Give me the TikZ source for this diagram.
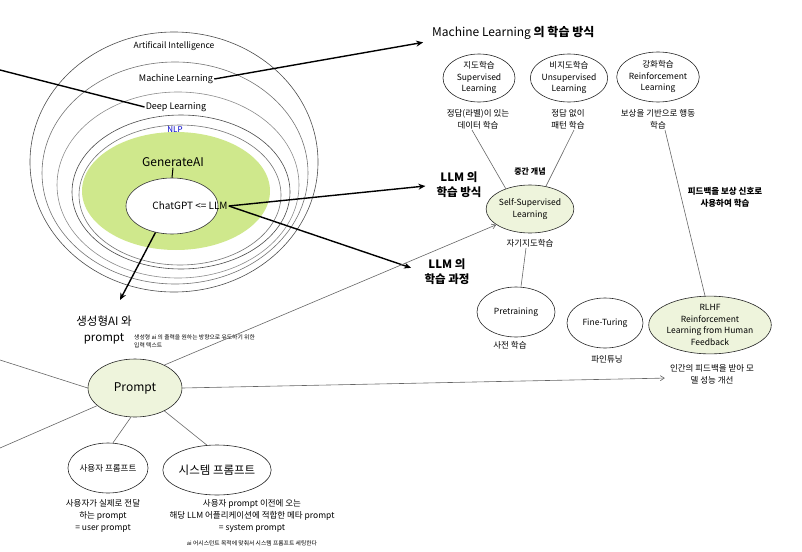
\documentclass[tikz,border=0pt]{standalone}
\usepackage{fontspec}
\setmainfont{Noto Sans CJK KR}
\usetikzlibrary{arrows.meta,shapes.geometric}
\definecolor{gen}{HTML}{CFE88C}
\definecolor{pale}{HTML}{EEF4DC}
\newcommand\fsz[2]{\fontsize{#1}{#2}\selectfont}
\begin{document}
\begin{tikzpicture}[x=1pt,y=-1pt,
  ring/.style={draw=black!70, line width=0.6pt},
  bub/.style={ellipse, draw=black!85, line width=0.6pt, inner sep=0pt, align=center, font=\fsz{8.5}{11.5}},
  lab/.style={align=center, inner sep=1pt, font=\fsz{8.5}{12}},
  blab/.style={align=center, inner sep=1pt, font=\fsz{8.5}{12}\bfseries},
  big/.style={align=center, inner sep=1pt, font=\fsz{11.5}{15}\bfseries},
  thick arrow/.style={line width=1.4pt, black, -{Stealth[length=7pt,width=6pt]}},
  thick line/.style={line width=1.4pt, black},
  thin line/.style={line width=0.6pt, black!60},
  thin arrow/.style={line width=0.6pt, black!60, -{Straight Barb[length=4pt,width=5pt]}}]
\useasboundingbox (0,0) rectangle (802,551);
% concentric rings
\draw[ring] (174,162) ellipse [x radius=144, y radius=130];
\draw[ring, black!55] (175,173) ellipse [x radius=133, y radius=111];
\draw[ring, black!45] (178,185) ellipse [x radius=121, y radius=93];
\draw[ring] (181,192) ellipse [x radius=109, y radius=77];
\draw[ring, black!55] (180,195) ellipse [x radius=101, y radius=70];
\fill[gen] (176,191) ellipse [x radius=94, y radius=59];
\node[ellipse, fill=white, draw=black!80, line width=0.6pt, minimum width=92, minimum height=56, inner sep=0pt] (gptell) at (172,206) {};
% ring labels
\node[font=\fsz{8.5}{10}, inner sep=1pt] (ai) at (174,46) {Artificail Intelligence};
\node[font=\fsz{9}{10}, inner sep=1pt] (ml) at (176,79) {Machine Learning};
\node[font=\fsz{9}{10}, inner sep=1pt] (dl) at (176,107) {Deep Learning};
\node[font=\fsz{8}{9}, text=blue!80!black, inner sep=1pt] (nlp) at (175,130) {NLP};
\node[font=\fsz{12}{13}, inner sep=1pt] (genai) at (173,162) {GenerateAI};
\node[font=\fsz{10}{11}, inner sep=1pt] (gpt) at (190,206) {ChatGPT <= LLM};
\draw[line width=1pt] (genai.south) -- (gptell.north);
% free ends
\coordinate (lefttop) at (0,70);
\coordinate (down) at (120,300);
\coordinate (pl1) at (0,360);
\coordinate (pl2) at (0,448);
% right top: ML methods
\node[anchor=west, inner sep=1pt, font=\fsz{12}{14}] (mltitle) at (431,33) {Machine Learning \textbf{의 학습 방식}};
\node[bub, minimum width=72, minimum height=48] (sup) at (479,78) {지도학습\\Supervised\\Learning};
\node[bub, minimum width=72, minimum height=48] (uns) at (569,78) {비지도학습\\Unsupervised\\Learning};
\node[bub, minimum width=77, minimum height=50] (rl) at (658,77) {강화학습\\Reinforcement\\Learning};
\node[lab] (supl) at (478,119) {정답(라벨)이 있는\\데이터 학습};
\node[lab] (unsl) at (568,119) {정답 없이\\패턴 학습};
\node[lab] (rll) at (658,119) {보상을 기반으로 행동\\학습};
% LLM
\node[big] (llmway) at (459,185) {LLM 의\\학습 방식};
\node[big] (llmproc) at (447,272) {LLM 의\\학습 과정};
\node[bub, fill=pale, minimum width=84, minimum height=48] (ssl) at (530,209) {Self-Supervised\\Learning};
\node[blab, font=\fsz{8}{10}\bfseries] (mid) at (530,172) {중간 개념};
\node[lab] (ssll) at (530,243) {자기지도학습};
\node[bub, minimum width=78, minimum height=50] (pre) at (516,312) {Pretraining};
\node[lab] (prel) at (510,345) {사전 학습};
\node[bub, minimum width=76, minimum height=50] (ft) at (605,323) {Fine-Turing};
\node[lab] (ftl) at (607,359) {파인튜닝};
\node[bub, fill=pale, minimum width=105, minimum height=57, font=\fsz{8.5}{11.5}] (rlhf) at (710,325) {RLHF\\Reinforcement\\Learning from Human\\Feedback};
\node[lab] (rlhfl) at (712,374) {인간의 피드백을 받아 모\\델 성능 개선};
\node[blab] (fb) at (725,197) {피드백을 보상 신호로\\사용하여 학습};
% prompt section
\node[align=center, inner sep=1pt, font=\fsz{11.5}{16}] (genp) at (104,330) {생성형AI 와\\prompt};
\node[anchor=west, align=left, inner sep=0pt, font=\fsz{5.8}{8}] (gpnote) at (134,341) {생성형 ai 의 출력을 원하는 방향으로 유도하기 위한\\입력 텍스트};
\node[bub, fill=pale, minimum width=94, minimum height=58, font=\fsz{12}{13}] (prompt) at (135,388) {Prompt};
\node[bub, minimum width=80, minimum height=50, font=\fsz{8.5}{10}] (user) at (108,468) {사용자 프롬프트};
\node[bub, minimum width=102, minimum height=50, font=\fsz{11.5}{13}] (sys) at (217,470) {시스템 프롬프트};
\node[lab] (userl) at (103,516) {사용자가 실제로 전달\\하는 prompt\\= user prompt};
\node[lab] (sysl) at (252,516) {사용자 prompt 이전에 오는\\해당 LLM 어플리케이션에 적합한 메타 prompt\\= system prompt};
\node[inner sep=0pt, font=\fsz{5.8}{8}] (sysnote) at (252,543) {ai 어시스턴트 목적에 맞춰서 시스템 프롬프트 세팅한다};
% thick connectors
\draw[thick line] (lefttop) -- (dl.west);
\draw[thick arrow, shorten >=8pt] (ml.east) -- ([yshift=-8pt]mltitle.west);
\draw[thick arrow, shorten >=10pt] (gpt.east) -- (llmway.west);
\draw[thick arrow, shorten >=13pt] (gpt.east) -- ([yshift=0pt]llmproc.west);
\draw[thick arrow] (gptell.238) -- (down);
% thin connectors
\draw[thin line] ([xshift=-6pt]supl.south) -- (ssl.140);
\draw[thin line] ([xshift=6pt]unsl.south) -- (ssl.55);
\draw[thin line] ([xshift=7pt]rll.south) -- ([xshift=-5pt]rlhf.north);
\draw[thin line] ([xshift=-4pt]ssll.south) -- ([xshift=5pt]pre.north);
\draw[thin arrow] (prompt.38) -- (ssl.205);
\draw[thin arrow, shorten >=4pt] (prompt.east) -- ([yshift=-4pt]rlhfl.west);
\draw[thin line] (pl1) -- (prompt.west);
\draw[thin line] (pl2) -- (prompt.205);
\draw[thin line] (prompt.262) -- ([xshift=5pt]user.north);
\draw[thin line] (prompt.-38) -- (sys.112);
\end{tikzpicture}
\end{document}
